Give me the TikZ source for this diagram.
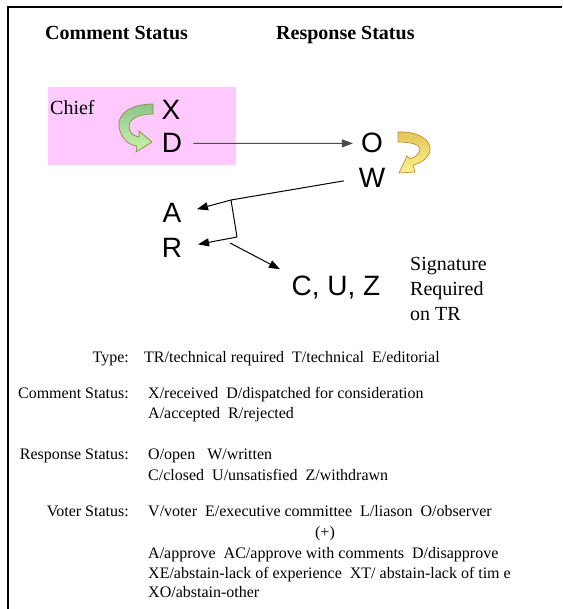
\documentclass[tikz,border=0pt]{standalone}
\usepackage{fontspec}
\setmainfont{Liberation Serif}
\newfontfamily\bigsans{Liberation Sans}
\usetikzlibrary{arrows.meta}
\definecolor{pinkbg}{RGB}{255,200,255}
\definecolor{grtop}{RGB}{140,196,140}
\definecolor{grbot}{RGB}{204,244,170}
\definecolor{grline}{RGB}{140,140,70}
\definecolor{yetop}{RGB}{228,196,88}
\definecolor{yebot}{RGB}{250,244,140}
\definecolor{yeline}{RGB}{196,140,50}
\begin{document}
\begin{tikzpicture}[x=1pt,y=-1pt,
  big/.style={font=\bigsans\fontsize{28}{30}\selectfont, inner sep=0pt, anchor=base},
  head/.style={font=\bfseries\fontsize{20}{24}\selectfont, inner sep=0pt, anchor=base west},
  note/.style={font=\fontsize{20}{25}\selectfont, inner sep=0pt, anchor=base west},
  lab/.style={font=\fontsize{16}{20}\selectfont, inner sep=0pt, anchor=base east},
  val/.style={font=\fontsize{16}{20}\selectfont, inner sep=0pt, anchor=base west},
  arr/.style={-{Triangle[length=11pt,width=8pt]}, line width=1pt},
  conn/.style={line width=1pt}]
\useasboundingbox (0,0) rectangle (562,609);
\fill[white] (0,0) rectangle (562,609);
\draw[line width=2pt] (8,609) -- (8,7) -- (562,7);

% headings
\node[head] (hc) at (45,40) {Comment Status};
\node[head] (hr) at (276,40) {Response Status};

% pink chief box
\fill[pinkbg] (48,87) rectangle (236,165);
\node[note] (chief) at (50,115) {Chief};

% green curved arrow
\shadedraw[top color=grtop, bottom color=grbot, draw=grline, line width=0.7pt]
  (153,104) .. controls (132,104) and (117,113) .. (119,127)
  .. controls (121,138) and (128,145) .. (137,146)
  -- (136,152) -- (152,142) -- (139,131) -- (139,137)
  .. controls (133,136) and (129,132) .. (129,127)
  .. controls (129,119) and (138,114) .. (153,114) -- cycle;

% yellow curved arrow
\shadedraw[top color=yetop, bottom color=yebot, draw=yeline, line width=0.7pt]
  (398,132) .. controls (418,131) and (431,140) .. (430,150)
  .. controls (429,158) and (421,163) .. (413,165)
  -- (415,172) -- (399,173) -- (407,156) -- (410,159)
  .. controls (416,157) and (420,153) .. (420,149)
  .. controls (420,145) and (412,142) .. (398,142) -- cycle;

% big letters
\node[big] (X) at (171,120) {X};
\node[big] (D) at (172,153) {D};
\node[big] (O) at (372,153) {O};
\node[big] (W) at (372,188) {W};
\node[big] (A) at (172,223) {A};
\node[big] (R) at (172,257) {R};
\node[big] (CUZ) at (336,295) {C, U, Z};
\node[note, align=left, anchor=north west] (sig) at (410,257) {Signature\\Required\\on TR};

% connectors
\coordinate (j1) at (231,200);
\coordinate (j2) at (237,237);
\coordinate (j3) at (230,243);
\draw[arr, black!70, shorten <=11pt, shorten >=8pt] (D.east) -- (O.west);
\draw[conn, shorten <=15pt] (W.west) -- (j1);
\draw[arr, shorten >=16pt] (j1) -- (A.east);
\draw[conn] (j1) -- (j2);
\draw[arr, shorten >=16pt] (j2) -- (R.east);
\draw[arr, shorten >=13pt] (j3) -- (CUZ.north west);

% legend
\node[lab] (ltype) at (129,362) {Type:};
\node[val] (vtype) at (144,362) {TR/technical required~ T/technical~ E/editorial};
\node[lab] (lcs) at (129,398) {Comment Status:};
\node[val] (vcs1) at (148,398) {X/received~ D/dispatched for consideration};
\node[val] (vcs2) at (148,418) {A/accepted~ R/rejected};
\node[lab] (lrs) at (129,459) {Response Status:};
\node[val] (vrs1) at (148,459) {O/open~~ W/written};
\node[val] (vrs2) at (148,480) {C/closed~ U/unsatisfied~ Z/withdrawn};
\node[lab] (lvs) at (129,516) {Voter Status:};
\node[val] (vvs1) at (148,516) {V/voter~ E/executive committee~ L/liason~ O/observer};
\node[val, anchor=base] (plus) at (325,537) {(+)};
\node[val] (vvs2) at (148,558) {A/approve~ AC/approve with comments~ D/disapprove};
\node[val] (vvs3) at (148,578) {XE/abstain-lack of experience~ XT/ abstain-lack of tim e};
\node[val] (vvs4) at (148,597) {XO/abstain-other};
\end{tikzpicture}
\end{document}
